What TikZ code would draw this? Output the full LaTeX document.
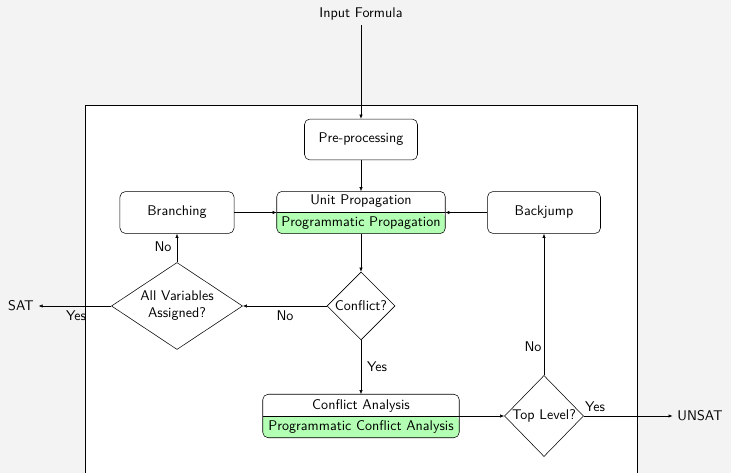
\documentclass[tikz,border=0pt]{standalone}
\usetikzlibrary{shapes.geometric,arrows.meta}
\definecolor{pagegray}{HTML}{F3F3F3}
\definecolor{progreen}{HTML}{B3FFB3}
\begin{document}
\begin{tikzpicture}[x=0.74pt,y=-0.74pt,
  every node/.style={font=\sffamily\fontsize{10.4}{12.5}\selectfont},
  arr/.style={-{Latex[length=3pt,width=2.4pt]}},
  proc/.style={draw,rounded corners=4pt,inner sep=0pt,align=center},
  shell/.style={inner sep=0pt},
  decision/.style={draw,diamond,inner sep=0pt,align=center},
  lbl/.style={inner sep=1pt}]
% page and surrounding frame
\useasboundingbox[fill=pagegray] (0,0) rectangle (731,473);
\fill[white] (85,105) rectangle (637,473);
\draw[line width=0.6pt] (85,473) -- (85,105) -- (637,105) -- (637,473);

% plain process boxes
\node (input) at (361,14) {Input Formula};
\node[proc,minimum width=83.6pt,minimum height=30.3pt] (pre) at (361,139.5) {Pre-processing};
\node[proc,minimum width=84.4pt,minimum height=31pt] (branch) at (177,212.5) {Branching};
\node[proc,minimum width=83.6pt,minimum height=31pt] (back) at (544,212.5) {Backjump};

% two-part boxes: plain upper half, green lower half
\node[shell,minimum width=124.3pt,minimum height=31pt] (up) at (361,212.5) {};
\fill[progreen,rounded corners=4pt] (up.west) -- (up.south west) -- (up.south east) -- (up.east) [sharp corners] -- cycle;
\draw[rounded corners=4pt] (up.south west) rectangle (up.north east);
\draw (up.west) -- (up.east);
\node (uptop) at (361,201.5) {Unit Propagation};
\node (upbot) at (361,223) {Programmatic Propagation};

\node[shell,minimum width=145pt,minimum height=31.8pt] (ca) at (361,416) {};
\fill[progreen,rounded corners=4pt] (ca.west) -- (ca.south west) -- (ca.south east) -- (ca.east) [sharp corners] -- cycle;
\draw[rounded corners=4pt] (ca.south west) rectangle (ca.north east);
\draw (ca.west) -- (ca.east);
\node (catop) at (361,405.5) {Conflict Analysis};
\node (cabot) at (361,427) {Programmatic Conflict Analysis};

% decisions
\node[decision,minimum width=50.3pt,minimum height=50.3pt] (conf) at (361,306) {Conflict?};
\node[decision,aspect=1.5,minimum width=97pt,minimum height=64.4pt] (allv) at (177,306) {All Variables\\Assigned?};
\node[decision,minimum width=58.5pt,minimum height=60pt] (top) at (544,416) {Top Level?};

% results
\node (sat) at (21,306) {SAT};
\node (unsat) at (700,416) {UNSAT};

% connectors
\draw[arr] (input) -- (pre);
\draw[arr] (pre) -- (up);
\draw[arr] (branch.east) -- (up.west);
\draw[arr] (back.west) -- (up.east);
\draw[arr] (up) -- (conf);
\draw[arr] (conf.west) -- (allv.east);
\draw[arr] (allv.north) -- (branch.south);
\draw[arr] (allv.west) -- (sat.east);
\draw[arr] (conf.south) -- (ca.north);
\draw[arr] (ca.east) -- (top.west);
\draw[arr] (top.north) -- (back.south);
\draw[arr] (top.east) -- (unsat.west);

% branch labels
\node[lbl] (lno1) at (285,316) {No};
\node[lbl] (lno2) at (163,247) {No};
\node[lbl] (lyes1) at (76,316) {Yes};
\node[lbl] (lyes2) at (377,367) {Yes};
\node[lbl] (lno3) at (533,347) {No};
\node[lbl] (lyes3) at (595,407) {Yes};
\end{tikzpicture}
\end{document}
